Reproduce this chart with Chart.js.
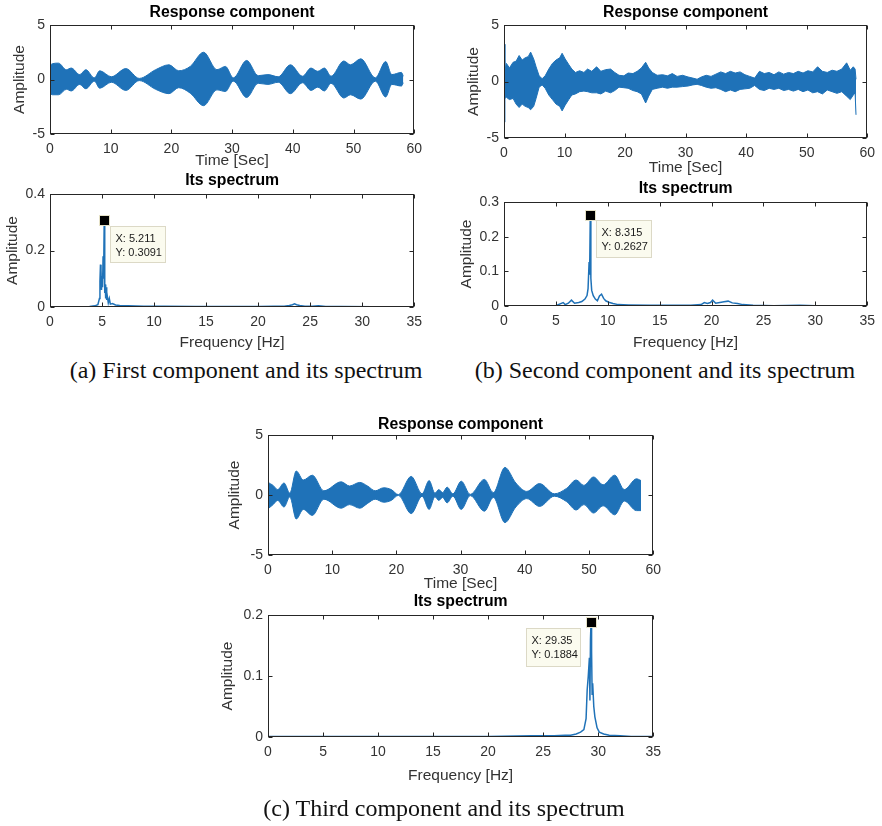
<!DOCTYPE html>
<html>
<head>
<meta charset="utf-8">
<title>Response components and their spectra</title>
<script src="https://cdn.jsdelivr.net/npm/chart.js@4.4.1/dist/chart.umd.min.js"></script>
<style>
body { margin: 0; width: 882px; height: 826px; overflow: hidden; background: #fff; position: relative; }
canvas { position: absolute; }
.caption { position: absolute; transform: translate(-50%, -50%); white-space: nowrap;
  font-family: "Liberation Serif", "Times New Roman", serif; font-size: 24px; color: #111; }
</style>
</head>
<body>
<canvas id="a1"></canvas>
<canvas id="a2"></canvas>
<canvas id="b1"></canvas>
<canvas id="b2"></canvas>
<canvas id="c1"></canvas>
<canvas id="c2"></canvas>
<div class="caption" style="left:246px;top:370px">(a) First component and its spectrum</div>
<div class="caption" style="left:665px;top:370px">(b) Second component and its spectrum</div>
<div class="caption" style="left:444px;top:808px">(c) Third component and its spectrum</div>
<script>
// tick labels
var timeTicks = [0, 10, 20, 30, 40, 50, 60];
var ampTicks = [-5, 0, 5];
var freqTicks = [0, 5, 10, 15, 20, 25, 30, 35];
var specTicksA = [0, 0.2, 0.4];
var specTicksB = [0, 0.1, 0.2, 0.3];
var specTicksC = [0, 0.1, 0.2];

// first component: envelope of the time signal
var timeA = [0, 0.4, 1.4, 2.7, 3.5, 4.9, 5.9, 7.3, 8.2, 10.1, 12.5, 14.7, 17.4, 19.6, 21.2, 23.1, 25.3, 27.5, 28.9, 30.2,
  32.4, 34.3, 35.9, 37.6, 39.6, 41.6, 43.0, 44.1, 45.2, 46.3, 48.4, 49.5, 51.2, 53.6, 55.3, 56.3, 57.9, 58.2];
var upperA = [1.3, 1.45, 1.5, 0.9, 1.05, 0.45, 0.9, 0.15, 0.8, 0.25, 1.0, 0.1, 0.9, 1.35, 0.8, 1.2, 2.5, 0.9, 1.2, 0.15,
  1.75, 0.35, 0.45, 0.25, 1.35, 0.3, 1.05, 0.75, 1.05, 0.3, 1.7, 1.35, 1.9, 0.15, 1.65, 0.45, 0.65, 0.3];
var lowerA = [-1.3, -1.4, -1.4, -0.9, -1.05, -0.45, -0.85, -0.15, -0.8, -0.25, -1.0, -0.1, -0.9, -1.3, -0.75, -1.25, -2.4, -0.95, -1.1, -0.15,
  -1.65, -0.35, -0.45, -0.25, -1.3, -0.3, -1.0, -0.7, -1.05, -0.35, -1.7, -1.4, -1.8, -0.15, -1.6, -0.45, -0.6, -0.3];

// second component
var timeB = [0, 0.15, 0.4, 0.9, 1.5, 2.0, 2.5, 3.0, 3.5, 4.0, 4.4, 4.9, 5.3, 5.8, 6.3, 6.8, 7.4, 8.0, 8.6, 9.2,
  9.6, 10.1, 10.7, 11.2, 11.8, 12.5, 13.2, 13.8, 14.5, 15.3, 16.0, 16.8, 17.6, 18.3, 19.0, 19.8, 20.5, 21.3, 22.0, 22.7,
  23.4, 23.9, 24.5, 25.3, 26.2, 27.0, 27.8, 28.6, 29.5, 30.4, 31.2, 31.9, 32.6, 33.4, 34.2, 35.0, 35.8, 36.6, 37.4, 38.2,
  39.0, 39.8, 40.6, 41.4, 42.2, 43.0, 43.8, 44.6, 45.4, 46.2, 47.0, 47.8, 48.6, 49.4, 50.2, 51.0, 51.8, 52.6, 53.4, 54.2,
  55.0, 55.8, 56.6, 57.2, 57.7, 58.0, 58.15];
var upperB = [3.3, 1.0, 1.6, 1.2, 1.7, 1.8, 2.3, 1.9, 2.1, 2.2, 2.6, 2.0, 1.3, 0.5, 0.25, 0.5, 1.1, 1.6, 1.9, 2.1,
  2.5, 2.0, 1.5, 1.1, 0.8, 0.95, 0.8, 1.1, 0.9, 1.3, 0.9, 1.05, 1.1, 0.8, 0.55, 0.5, 0.75, 0.7, 0.9, 1.2,
  1.7, 1.2, 0.8, 0.55, 0.6, 0.5, 0.7, 0.45, 0.55, 0.4, 0.3, 0.2, 0.4, 0.55, 0.45, 0.65, 0.85, 0.7, 0.9, 0.75,
  0.85, 0.6, 0.45, 0.3, 0.9, 0.7, 0.8, 0.6, 0.85, 0.65, 0.8, 0.7, 0.9, 0.75, 0.95, 0.85, 1.3, 0.9, 0.8, 1.0,
  0.9, 1.1, 1.65, 1.0, 1.3, 1.1, 0.2];
var lowerB = [-3.6, -1.5, -1.4, -1.6, -1.5, -2.0, -2.3, -2.0, -2.2, -2.3, -2.5, -2.2, -1.5, -0.5, -0.3, -0.6, -1.2, -1.6, -2.0, -2.2,
  -2.6, -2.1, -1.6, -1.2, -1.1, -0.9, -0.85, -0.9, -1.0, -1.0, -1.1, -0.85, -1.0, -0.8, -0.5, -0.55, -0.6, -0.8, -0.9, -1.1,
  -1.9, -1.3, -0.7, -0.6, -0.5, -0.6, -0.5, -0.5, -0.45, -0.4, -0.3, -0.25, -0.35, -0.5, -0.6, -0.55, -0.7, -0.9, -0.75, -0.9,
  -0.7, -0.65, -0.6, -0.35, -0.7, -0.8, -0.6, -0.7, -0.6, -0.8, -0.7, -0.85, -0.7, -0.9, -0.75, -1.0, -0.9, -1.1, -0.75, -0.9,
  -1.05, -0.9, -1.3, -1.6, -1.2, -1.0, -2.95];

// third component
var timeC = [0, 0.8, 1.5, 2.5, 3.4, 4.4, 5.5, 6.9, 8.7, 11.4, 12.7, 14.3, 15.5, 16.7, 18.0, 19.2, 20.3, 22.3, 24.0, 25.1,
  26.0, 26.6, 27.2, 27.9, 28.8, 30.1, 31.5, 33.7, 35.1, 36.9, 38.6, 40.3, 42.3, 44.6, 46.5, 48.0, 49.2, 50.7, 52.2, 54.0,
  55.5, 57.4, 58.1];
var upperC = [1.05, 0.8, 0.45, 1.0, 0.15, 2.0, 1.25, 1.65, 0.35, 1.1, 0.75, 1.05, 0.75, 0.35, 0.6, 0.45, 0.03, 1.55, 0.1, 1.2,
  0.15, 0.45, 0.2, 0.65, 0.1, 1.15, 0.05, 1.3, 0.2, 2.3, 1.0, 0.3, 0.95, 0.1, 0.55, 1.25, 0.8, 1.5, 0.85, 1.65,
  0.45, 1.35, 1.2];
var lowerC = [-1.15, -0.8, -0.45, -1.0, -0.15, -2.0, -1.2, -1.7, -0.35, -1.1, -0.8, -1.1, -0.7, -0.35, -0.6, -0.45, -0.03, -1.55, -0.1, -1.2,
  -0.15, -0.45, -0.2, -0.65, -0.1, -1.2, -0.05, -1.35, -0.2, -2.3, -1.0, -0.3, -0.95, -0.1, -0.55, -1.25, -0.8, -1.5, -0.9, -1.65,
  -0.5, -1.3, -1.3];

// spectra
var freqA = [0, 1, 2, 3, 3.8, 4.3, 4.6, 4.75, 4.8, 4.85, 4.9, 4.95, 5.0, 5.05, 5.1, 5.15, 5.211, 5.26, 5.3, 5.35,
  5.4, 5.45, 5.5, 5.6, 5.7, 5.8, 6.0, 6.3, 6.7, 7.5, 9, 11, 14, 17, 20, 21.5, 22.5, 23.0, 23.3, 23.5,
  23.7, 24.0, 24.5, 25.2, 25.8, 26.5, 28, 31, 35];
var ampA = [0, 0.0005, 0.001, 0.001, 0.002, 0.004, 0.008, 0.03, 0.09, 0.15, 0.13, 0.06, 0.11, 0.07, 0.18, 0.1, 0.3091, 0.05, 0.08, 0.03,
  0.07, 0.025, 0.04, 0.015, 0.03, 0.01, 0.012, 0.007, 0.005, 0.004, 0.003, 0.003, 0.002, 0.002, 0.002, 0.003, 0.003, 0.005, 0.008, 0.011,
  0.008, 0.005, 0.003, 0.003, 0.004, 0.002, 0.002, 0.001, 0.001];
var freqB = [0, 3, 5, 5.7, 5.9, 6.2, 6.5, 6.8, 7.2, 7.5, 7.8, 8.0, 8.1, 8.2, 8.25, 8.315, 8.37, 8.45, 8.6, 8.8,
  9.0, 9.2, 9.4, 9.6, 9.8, 10.1, 10.5, 11, 12, 14, 16, 18, 19, 19.3, 19.6, 19.9, 20.1, 20.4, 20.8, 21.2,
  21.6, 22.0, 22.5, 23, 24, 26, 28.5, 30, 35];
var ampB = [0, 0.0005, 0.001, 0.01, 0.004, 0.008, 0.017, 0.008, 0.01, 0.013, 0.02, 0.03, 0.05, 0.127, 0.09, 0.2627, 0.08, 0.045, 0.03, 0.02,
  0.015, 0.029, 0.034, 0.022, 0.015, 0.011, 0.007, 0.004, 0.003, 0.002, 0.002, 0.002, 0.004, 0.01, 0.007, 0.01, 0.017, 0.008, 0.01, 0.012,
  0.014, 0.009, 0.007, 0.004, 0.002, 0.001, 0.002, 0.001, 0];
var freqC = [0, 5, 10, 15, 20, 24, 26, 27, 27.5, 28, 28.4, 28.7, 28.9, 29.0, 29.1, 29.2, 29.25, 29.3, 29.35, 29.4,
  29.45, 29.5, 29.6, 29.7, 29.9, 30.1, 30.5, 31, 32, 33, 35];
var ampC = [0.001, 0.001, 0.001, 0.001, 0.001, 0.002, 0.002, 0.003, 0.003, 0.005, 0.008, 0.012, 0.03, 0.077, 0.1, 0.13, 0.06, 0.16, 0.1884, 0.14,
  0.07, 0.088, 0.05, 0.033, 0.015, 0.008, 0.005, 0.003, 0.002, 0.001, 0.001];

// data tip values (X, Y)
var peakA = [5.211, 0.3091];
var peakB = [8.315, 0.2627];
var peakC = [29.35, 0.1884];

var blue = '#1f72b8';
var fontFamily = '"Liberation Sans", Arial, Helvetica, sans-serif';
Chart.defaults.font.family = fontFamily;

// box, inward ticks, panel title and data tip, the way MATLAB draws them
var matlabBox = {
  id: 'matlabBox',
  afterDraw: function(chart, args, opts) {
    var ctx = chart.ctx, a = chart.chartArea;
    var xs = chart.scales.x, ys = chart.scales.y;
    var l = Math.round(a.left) + 0.5, r = Math.round(a.right) - 0.5;
    var t = Math.round(a.top) + 0.5, b = Math.round(a.bottom) - 0.5;
    ctx.save();
    ctx.strokeStyle = '#262626';
    ctx.lineWidth = 1;
    ctx.strokeRect(l, t, r - l, b - t);
    ctx.beginPath();
    xs.ticks.forEach(function(tk) {
      var px = Math.round(xs.getPixelForValue(tk.value)) + 0.5;
      ctx.moveTo(px, b); ctx.lineTo(px, b - 4);
      ctx.moveTo(px, t); ctx.lineTo(px, t + 4);
    });
    ys.ticks.forEach(function(tk) {
      var py = Math.round(ys.getPixelForValue(tk.value)) + 0.5;
      ctx.moveTo(l, py); ctx.lineTo(l + 4, py);
      ctx.moveTo(r, py); ctx.lineTo(r - 4, py);
    });
    ctx.stroke();

    ctx.fillStyle = '#000';
    ctx.font = 'bold 15.8px ' + fontFamily;
    ctx.textAlign = 'center';
    ctx.textBaseline = 'middle';
    ctx.fillText(opts.title, (a.left + a.right) / 2, a.top - opts.gap);

    if (opts.tip) {
      var tip = opts.tip;
      var mx = xs.getPixelForValue(tip.x), my = ys.getPixelForValue(tip.y);
      var bx = Math.round(mx + tip.dx) + 0.5, by = Math.round(my + tip.dy) + 0.5;
      ctx.fillStyle = '#fbfbef';
      ctx.strokeStyle = '#dcd9c6';
      ctx.fillRect(bx, by, tip.w, tip.h);
      ctx.strokeRect(bx, by, tip.w, tip.h);
      ctx.fillStyle = '#1a1a1a';
      ctx.font = '11px ' + fontFamily;
      ctx.textAlign = 'left';
      ctx.fillText('X: ' + tip.x, bx + 5, by + 12);
      ctx.fillText('Y: ' + tip.y, bx + 5, by + 26);
      ctx.fillStyle = '#000';
      ctx.strokeStyle = '#e6e2c8';
      ctx.fillRect(Math.round(mx) - 4, Math.round(my) - 4, 9, 9);
      ctx.strokeRect(Math.round(mx) - 4.5, Math.round(my) - 4.5, 10, 10);
    }
    ctx.restore();
  }
};

function panelOptions(p, xTicks, yTicks, xLabel, title, tip) {
  return {
    responsive: false,
    animation: false,
    events: [],
    layout: { padding: { top: p.topPad, right: p.rightPad, left: 0, bottom: 0 } },
    plugins: {
      legend: { display: false },
      tooltip: { enabled: false },
      matlabBox: { title: title, gap: p.titleGap, tip: tip }
    },
    scales: {
      x: {
        type: 'linear',
        min: xTicks[0],
        max: xTicks[xTicks.length - 1],
        afterBuildTicks: function(s) { s.ticks = xTicks.map(function(v) { return { value: v }; }); },
        afterFit: function(s) { s.height = p.xH; },
        grid: { display: false, drawTicks: false },
        border: { display: false },
        ticks: { padding: 7, autoSkip: false, maxRotation: 0, color: '#333', font: { size: 14 },
                 callback: function(v) { return String(v); } },
        title: { display: true, text: xLabel, color: '#333', font: { size: 15.5 },
                 padding: { top: 0, bottom: p.xTitlePad } }
      },
      y: {
        type: 'linear',
        min: yTicks[0],
        max: yTicks[yTicks.length - 1],
        afterBuildTicks: function(s) { s.ticks = yTicks.map(function(v) { return { value: v }; }); },
        afterFit: function(s) { s.width = p.yW; },
        grid: { display: false, drawTicks: false },
        border: { display: false },
        ticks: { padding: 5, autoSkip: false, color: '#333', font: { size: 14 },
                 callback: function(v) { return String(v); } },
        title: { display: true, text: 'Amplitude', color: '#333', font: { size: 15.5 },
                 padding: { top: p.yTitlePad, bottom: 0 } }
      }
    }
  };
}

function place(p) {
  var cv = document.getElementById(p.id);
  cv.width = p.yW + p.plotW + p.rightPad;
  cv.height = p.topPad + p.plotH + p.xH;
  cv.style.left = p.left + 'px';
  cv.style.top = p.top + 'px';
  return cv.getContext('2d');
}

function pairs(xs, ys) {
  return xs.map(function(x, i) { return { x: x, y: ys[i] }; });
}

function bandData(t, up, lo, smooth) {
  var mode = smooth ? 'monotone' : 'default';
  return {
    datasets: [{
      data: pairs(t, up), borderColor: blue, backgroundColor: blue, borderWidth: 1,
      pointRadius: 0, fill: '+1', cubicInterpolationMode: mode
    }, {
      data: pairs(t, lo), borderColor: blue, backgroundColor: blue, borderWidth: 1,
      pointRadius: 0, fill: false, cubicInterpolationMode: mode
    }]
  };
}

function specData(f, amp) {
  return {
    datasets: [{
      data: pairs(f, amp), borderColor: blue, borderWidth: 1.5, pointRadius: 0, fill: false
    }]
  };
}

var pA1 = { id: 'a1', left: 0, top: 0, yW: 50, plotW: 367, plotH: 109, topPad: 25, rightPad: 12, xH: 36, yTitlePad: 10.7, xTitlePad: 0.2, titleGap: 12 };
var pA2 = { id: 'a2', left: 0, top: 172, yW: 50, plotW: 367, plotH: 113, topPad: 22, rightPad: 12, xH: 48, yTitlePad: 3.7, xTitlePad: 3.2, titleGap: 13 };
var pB1 = { id: 'b1', left: 444, top: 0, yW: 60, plotW: 367, plotH: 113, topPad: 25, rightPad: 11, xH: 40, yTitlePad: 20.7, xTitlePad: 1.2, titleGap: 12 };
var pB2 = { id: 'b2', left: 444, top: 180, yW: 60, plotW: 366, plotH: 104, topPad: 22, rightPad: 12, xH: 48, yTitlePad: 13.7, xTitlePad: 2.2, titleGap: 13 };
var pC1 = { id: 'c1', left: 208, top: 410, yW: 60, plotW: 388, plotH: 120, topPad: 25, rightPad: 12, xH: 40, yTitlePad: 17.7, xTitlePad: 2.2, titleGap: 10 };
var pC2 = { id: 'c2', left: 208, top: 593, yW: 60, plotW: 388, plotH: 122, topPad: 22, rightPad: 12, xH: 48, yTitlePad: 10.7, xTitlePad: 0.2, titleGap: 13 };

new Chart(place(pA1), {
  type: 'line', data: bandData(timeA, upperA, lowerA, true), plugins: [matlabBox],
  options: panelOptions(pA1, timeTicks, ampTicks, 'Time [Sec]', 'Response component', null)
});
new Chart(place(pA2), {
  type: 'line', data: specData(freqA, ampA), plugins: [matlabBox],
  options: panelOptions(pA2, freqTicks, specTicksA, 'Frequency [Hz]', 'Its spectrum',
    { x: peakA[0], y: peakA[1], dx: 6, dy: 6, w: 55, h: 36 })
});
new Chart(place(pB1), {
  type: 'line', data: bandData(timeB, upperB, lowerB, false), plugins: [matlabBox],
  options: panelOptions(pB1, timeTicks, ampTicks, 'Time [Sec]', 'Response component', null)
});
new Chart(place(pB2), {
  type: 'line', data: specData(freqB, ampB), plugins: [matlabBox],
  options: panelOptions(pB2, freqTicks, specTicksB, 'Frequency [Hz]', 'Its spectrum',
    { x: peakB[0], y: peakB[1], dx: 6, dy: 5, w: 55, h: 37 })
});
new Chart(place(pC1), {
  type: 'line', data: bandData(timeC, upperC, lowerC, true), plugins: [matlabBox],
  options: panelOptions(pC1, timeTicks, ampTicks, 'Time [Sec]', 'Response component', null)
});
new Chart(place(pC2), {
  type: 'line', data: specData(freqC, ampC), plugins: [matlabBox],
  options: panelOptions(pC2, freqTicks, specTicksC, 'Frequency [Hz]', 'Its spectrum',
    { x: peakC[0], y: peakC[1], dx: -65, dy: 6, w: 54, h: 38 })
});
</script>
</body>
</html>
